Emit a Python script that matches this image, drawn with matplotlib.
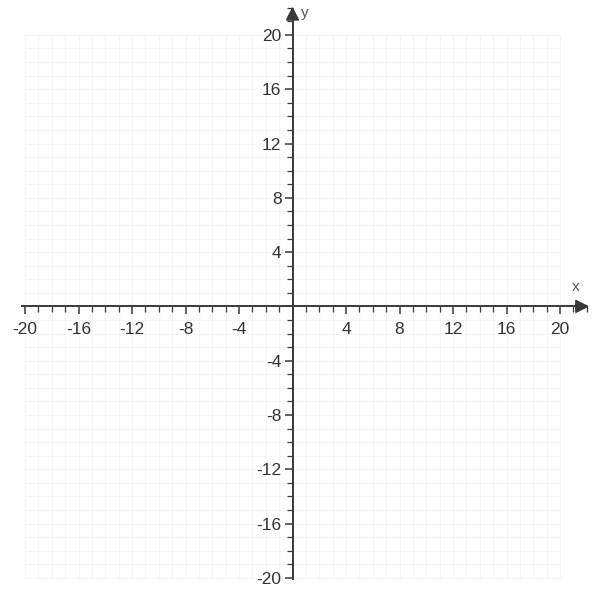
import numpy as np
import matplotlib.pyplot as plt
from matplotlib.ticker import MultipleLocator, FuncFormatter

plt.rcParams['font.family'] = ['Liberation Sans', 'DejaVu Sans']
plt.rcParams['axes.unicode_minus'] = False

# axis ranges / ticks of the coordinate plane
x_min, x_max = -20, 20
y_min, y_max = -20, 20
major_step = 4
minor_step = 1

fig = plt.figure(figsize=(5.95, 5.93), dpi=100)
ax = fig.add_axes([0.0308, 0.0071, 0.9666, 0.989])
ax.set_xlim(-20.5, 22.5)
ax.set_ylim(-20.8, 22.4)

# faint grid
for g in range(x_min, x_max + 1):
    ax.plot([g, g], [y_min, y_max], color='#f5f5f5', lw=0.8, zorder=0)
for g in range(y_min, y_max + 1):
    ax.plot([x_min, x_max], [g, g], color='#f5f5f5', lw=0.8, zorder=0)

# axes through the origin
for s in ['top', 'right']:
    ax.spines[s].set_visible(False)
ax.spines['left'].set_position('zero')
ax.spines['bottom'].set_position('zero')
ax.spines['left'].set_bounds(y_min - 0.1, 21.6)
ax.spines['bottom'].set_bounds(x_min - 0.2, 21.6)
for s in ['left', 'bottom']:
    ax.spines[s].set_color('#3a3a3a')
    ax.spines[s].set_linewidth(1.4)

# arrow heads
ax.annotate('', xy=(22.4, 0), xytext=(21.0, 0),
            arrowprops=dict(arrowstyle='-|>', color='#3a3a3a', lw=1.4,
                            mutation_scale=20), annotation_clip=False)
ax.annotate('', xy=(0, 22.3), xytext=(0, 20.9),
            arrowprops=dict(arrowstyle='-|>', color='#3a3a3a', lw=1.4,
                            mutation_scale=20), annotation_clip=False)

ax.xaxis.set_major_locator(MultipleLocator(major_step))
ax.xaxis.set_minor_locator(MultipleLocator(minor_step))
ax.yaxis.set_major_locator(MultipleLocator(major_step))
ax.yaxis.set_minor_locator(MultipleLocator(minor_step))

fmt = FuncFormatter(lambda v, p: '' if abs(v) < 1e-9 or abs(v) > 20 else '%d' % v)
ax.xaxis.set_major_formatter(fmt)
ax.yaxis.set_major_formatter(fmt)

ax.tick_params(which='major', length=6, width=1.1, color='#3a3a3a',
               labelsize=12.5, labelcolor='#333333', pad=2)
ax.tick_params(which='minor', length=4, width=0.9, color='#3a3a3a')
ax.tick_params(axis='x', which='major', pad=5)

ax.text(21.2, 1.4, 'x', fontsize=11, color='#555555', ha='center', va='center')
ax.text(0.9, 21.6, 'y', fontsize=11, color='#555555', ha='center', va='center')

fig.savefig('out.png', dpi=100)
